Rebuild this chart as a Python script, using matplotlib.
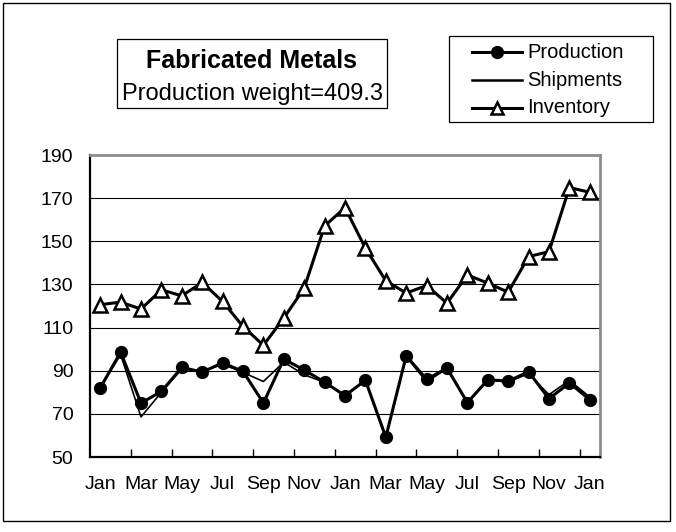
import matplotlib.pyplot as plt
from matplotlib.lines import Line2D
from matplotlib.patches import Rectangle

months = ["Jan", "Feb", "Mar", "Apr", "May", "Jun", "Jul", "Aug", "Sep", "Oct", "Nov", "Dec"] * 2 + ["Jan"]

production = [82.0, 98.6, 75.0, 80.4, 91.5, 89.4, 93.6, 89.7, 75.0, 95.4, 90.3, 84.7,
              78.4, 85.6, 59.2, 96.9, 86.0, 91.2, 75.2, 85.8, 85.2, 89.5, 77.0, 84.3, 76.6]
shipments = [82.0, 97.5, 68.6, 80.0, 90.8, 89.8, 93.0, 89.2, 85.0, 94.0, 88.1, 84.6,
             78.4, 85.5, 59.0, 96.5, 84.8, 91.0, 75.5, 85.6, 84.8, 88.6, 78.9, 85.5, 77.8]
inventory = [120.6, 121.8, 118.6, 127.5, 124.7, 130.9, 122.1, 110.5, 101.8, 114.4, 128.3, 157.1,
             165.6, 146.8, 131.7, 126.0, 129.5, 121.3, 134.4, 130.6, 126.4, 142.9, 145.2, 174.9, 172.7]

series_names = ["Production", "Shipments", "Inventory"]
title = "Fabricated Metals"
subtitle = "Production weight=409.3"

plt.rcParams["font.family"] = ["Liberation Sans", "DejaVu Sans"]
narrow = ["Liberation Sans Narrow", "Liberation Sans"]

W, H = 676, 532
fig = plt.figure(figsize=(W / 100, H / 100), dpi=100)
ax = fig.add_axes([90 / W, 1 - 457 / H, 510 / W, 302 / H])

x = list(range(len(months)))
ax.plot(x, production, color="black", lw=2.2, marker="o", ms=8.5, zorder=3)
ax.plot(x, shipments, color="black", lw=1.2, zorder=4)
ax.plot(x, inventory, color="black", lw=2.2, marker="^", ms=9.5,
        markerfacecolor="white", markeredgewidth=1.8, zorder=3)

ax.set_xlim(-0.5, len(months) - 0.5)
ax.set_ylim(50, 190)
ax.set_yticks(range(50, 191, 20))
ax.set_xticks(x[::2])
ax.set_xticklabels(months[::2], family=narrow, fontsize=14)
ax.set_yticklabels([str(v) for v in range(50, 191, 20)], family=narrow, fontsize=14)
ax.set_xticks([i + 0.5 for i in range(1, len(months) - 1, 2)], minor=True)
ax.tick_params(axis="x", which="major", length=0, pad=14)
ax.tick_params(axis="x", which="minor", direction="in", length=6, width=1)
ax.tick_params(axis="y", length=0, pad=12)

ax.yaxis.grid(True, color="black", lw=0.8)
ax.set_axisbelow(True)
for side in ["left", "bottom"]:
    ax.spines[side].set_color("black")
    ax.spines[side].set_linewidth(1.6)
for side in ["top", "right"]:
    ax.spines[side].set_color("#8c8c8c")
    ax.spines[side].set_linewidth(2.0)

# title box
fig.add_artist(Rectangle((117 / W, 1 - 108 / H), 270 / W, 69 / H,
                         transform=fig.transFigure, fill=False, ec="black", lw=0.9))
fig.text(252 / W, 1 - 68 / H, title, ha="center", va="baseline", fontsize=18, fontweight="bold")
fig.text(252 / W, 1 - 100 / H, subtitle, ha="center", va="baseline", fontsize=17)

# legend box, drawn by hand
fig.add_artist(Rectangle((449 / W, 1 - 122 / H), 204 / W, 86 / H,
                         transform=fig.transFigure, fill=False, ec="black", lw=0.9))
styles = [dict(lw=2.2, marker="o", ms=8.5),
          dict(lw=1.8),
          dict(lw=2.2, marker="^", ms=8, markerfacecolor="white", markeredgewidth=1.8)]
for i, (name, st) in enumerate(zip(series_names, styles)):
    y = 1 - (52 + 28 * i) / H
    fig.add_artist(Line2D([472 / W, 497 / W, 522 / W], [y, y, y], color="black",
                          markevery=[1], transform=fig.transFigure, **st))
    fig.text(527 / W, y, name, ha="left", va="center", fontsize=14.5)

# outer border
fig.add_artist(Rectangle((3 / W, 1 - 521 / H), 667 / W, 518 / H,
                         transform=fig.transFigure, fill=False, ec="black", lw=1.0))

fig.savefig("out.png", dpi=100)
